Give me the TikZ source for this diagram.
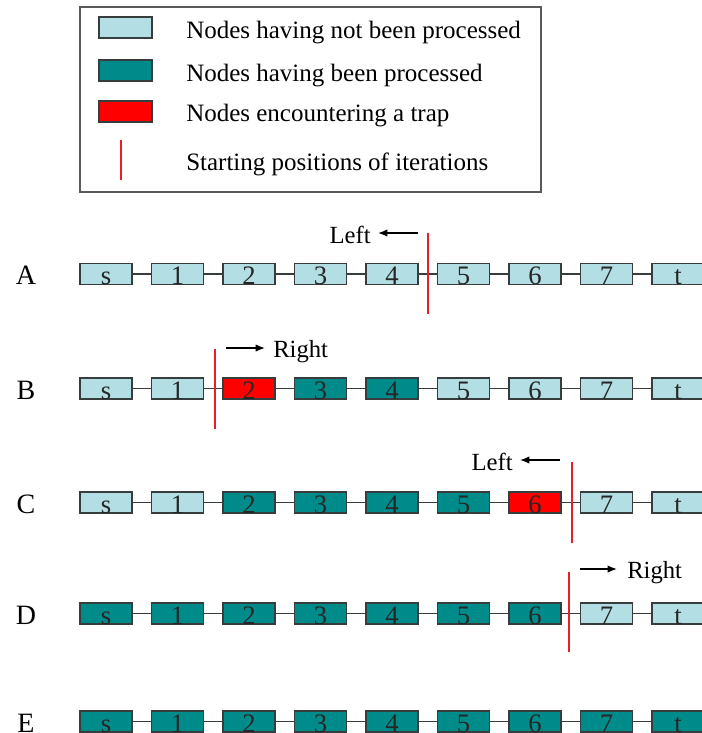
\documentclass[tikz,border=0pt]{standalone}
\usepackage{fontspec}
\setmainfont{Liberation Serif}
\usetikzlibrary{arrows.meta}
\definecolor{lb}{RGB}{178,222,228}
\definecolor{tl}{RGB}{0,139,139}
\definecolor{rd}{RGB}{255,0,0}
\definecolor{bd}{RGB}{55,60,60}
\definecolor{rl}{RGB}{232,30,40}
\newcommand\nlab[1]{\ifcase#1 s\or 1\or 2\or 3\or 4\or 5\or 6\or 7\or t\fi}
\newcommand\chainrow[3]{%
  \node[rowlab, anchor=base] (lab#1) at (26,#2+10.5) {#1};
  \foreach \col [count=\i from 0] in {#3} {
    \pgfmathsetmacro\xx{106+71.5*\i}
    \node[nodebox, fill=\col] (#1\i) at (\xx,#2) {\nlab{\i}};
  }
  \foreach \i [evaluate=\i as \j using int(\i-1)] in {1,...,8} {
    \draw[link] (#1\j.east) -- (#1\i.west);
  }
}
\begin{document}
\begin{tikzpicture}[x=0.75pt,y=-0.75pt,
  nodebox/.style={draw=bd, line width=1.1pt, minimum width=39pt, inner xsep=0pt,
    inner ysep=0pt, text height=15.75pt, text depth=0pt, text=black!85,
    font=\fontsize{20}{20}\selectfont},
  link/.style={draw=bd, line width=1.1pt},
  rowlab/.style={inner sep=0pt, font=\fontsize{21}{21}\selectfont},
  legtext/.style={anchor=base west, inner sep=0pt, font=\fontsize{18.75}{20}\selectfont},
  dirtext/.style={inner sep=0pt, font=\fontsize{18.5}{20}\selectfont},
  startline/.style={draw=rl, line width=1.8pt},
  dirarrow/.style={draw=black, line width=1pt, -{Latex[length=7pt,width=5.5pt]}},
  swatch/.style={draw=bd, line width=1.1pt, minimum width=39.75pt, minimum height=15.75pt, inner sep=0pt},
]
\useasboundingbox (0,0) rectangle (702,733);
% legend
\node[draw=black!65, line width=1.2pt, minimum width=345.75pt, minimum height=138.75pt, inner sep=0pt] (legend) at (310.5,99.5) {};
\node[swatch, fill=lb] (sw1) at (125.5,27.5) {};
\node[swatch, fill=tl] (sw2) at (125.5,70.5) {};
\node[swatch, fill=rd] (sw3) at (125.5,111.5) {};
\coordinate (rl1) at (121,140);
\coordinate (rl2) at (121,180);
\draw[startline] (rl1) -- (rl2);
\node[legtext] (lt1) at (186,38) {Nodes having not been processed};
\node[legtext] (lt2) at (186,81) {Nodes having been processed};
\node[legtext] (lt3) at (186,121) {Nodes encountering a trap};
\node[legtext] (lt4) at (186,170) {Starting positions of iterations};
% rows
\chainrow{A}{274}{lb,lb,lb,lb,lb,lb,lb,lb,lb}
\chainrow{B}{388.5}{lb,lb,rd,tl,tl,lb,lb,lb,lb}
\chainrow{C}{502.5}{lb,lb,tl,tl,tl,tl,rd,lb,lb}
\chainrow{D}{613.5}{tl,tl,tl,tl,tl,tl,tl,lb,lb}
\chainrow{E}{721.5}{tl,tl,tl,tl,tl,tl,tl,tl,tl}
% row A
\coordinate (a1) at (428,233); \coordinate (a2) at (428,314);
\draw[startline] (a1) -- (a2);
\coordinate (aa1) at (418,233); \coordinate (aa2) at (378,233);
\draw[dirarrow] (aa1) -- (aa2);
\node[dirtext, anchor=base east] (la) at (371,243) {Left};
% row B
\coordinate (b1) at (215,349); \coordinate (b2) at (215,429);
\draw[startline] (b1) -- (b2);
\coordinate (ba1) at (226,348); \coordinate (ba2) at (265,348);
\draw[dirarrow] (ba1) -- (ba2);
\node[dirtext, anchor=base west] (lbt) at (273,357) {Right};
% row C
\coordinate (c1) at (572,462); \coordinate (c2) at (572,543);
\draw[startline] (c1) -- (c2);
\coordinate (ca1) at (560,460); \coordinate (ca2) at (520,460);
\draw[dirarrow] (ca1) -- (ca2);
\node[dirtext, anchor=base east] (lc) at (513,470) {Left};
% row D
\coordinate (d1) at (569,572); \coordinate (d2) at (569,652);
\draw[startline] (d1) -- (d2);
\coordinate (da1) at (580,569); \coordinate (da2) at (617,569);
\draw[dirarrow] (da1) -- (da2);
\node[dirtext, anchor=base west] (ld) at (627,578) {Right};
\end{tikzpicture}
\end{document}
